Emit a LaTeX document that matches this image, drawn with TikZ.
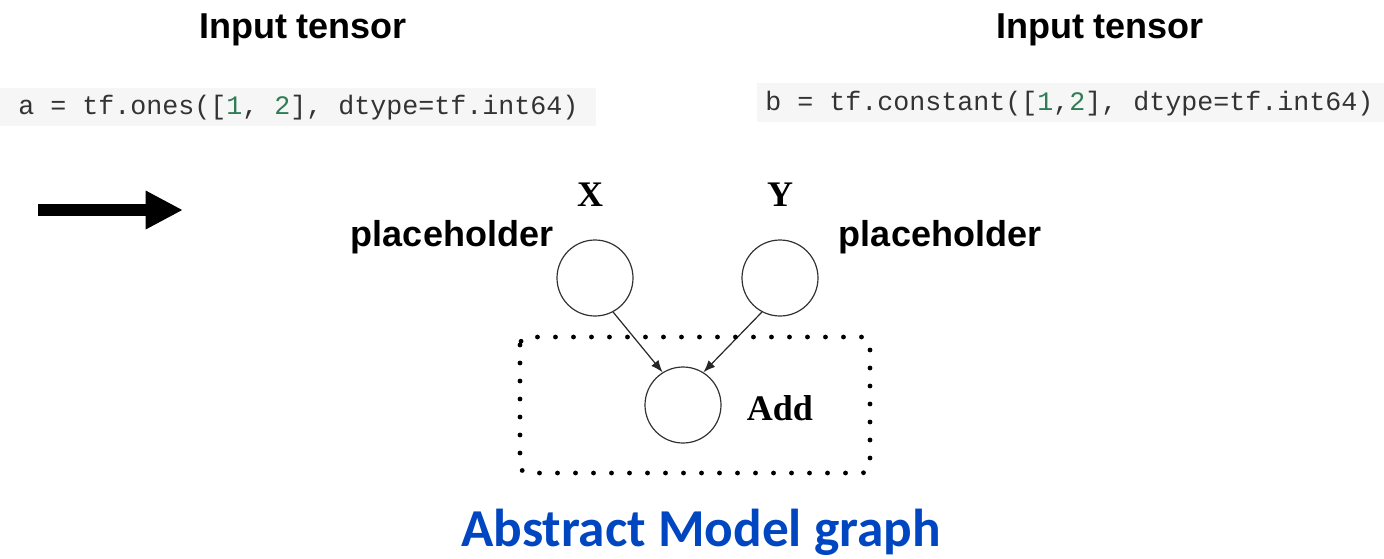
\documentclass[tikz,border=0pt]{standalone}
\usepackage{fontspec}
\setmainfont{Liberation Serif}
\setsansfont{Liberation Sans}
\setmonofont{Liberation Mono}
\newfontfamily\carlito{Carlito}
\usetikzlibrary{arrows.meta}
\definecolor{codebg}{HTML}{F6F6F6}
\definecolor{numgreen}{HTML}{2F7D55}
\definecolor{titleblue}{HTML}{0046C0}
\tikzset{
  x=0.75pt, y=-0.75pt,
  heading/.style={font=\sffamily\bfseries\fontsize{27}{30}\selectfont, inner sep=0pt},
  code/.style={font=\ttfamily\fontsize{20}{24}\selectfont, anchor=base west, inner sep=0pt, text=black!80},
  varname/.style={font=\rmfamily\bfseries\fontsize{27}{30}\selectfont, inner sep=0pt},
  opnode/.style={circle, draw=black!80, line width=0.9pt, minimum size=57pt, inner sep=0pt},
  flow/.style={-{Latex[length=9pt,width=7pt]}, line width=0.9pt, black!85},
  group/.style={draw, line width=3.6pt, dash pattern=on 0pt off 13.5pt, line cap=round, rounded corners=6pt},
}
\newcommand{\num}[1]{\textcolor{numgreen}{#1}}
\begin{document}
\begin{tikzpicture}
\useasboundingbox (0,0) rectangle (1384,558);

% headings over the two inputs
\node[heading] (inl) at (303,30) {Input tensor};
\node[heading] (inr) at (1100,30) {Input tensor};

% code snippets
\fill[codebg] (0,88) rectangle (596,126);
\node[code] (codea) at (18,114) {a = tf.ones([\num{1}, \num{2}], dtype=tf.int64)};
\fill[codebg] (757,83) rectangle (1384,122);
\node[code] (codeb) at (765,110) {b = tf.constant([\num{1},\num{2}], dtype=tf.int64)};

% big pointer arrow
\coordinate (ps) at (38,210);
\coordinate (pe) at (183,210);
\draw[line width=9pt, -{Triangle[length=28pt,width=27pt]}] (ps) -- (pe);

% graph nodes
\node[opnode] (x) at (595,278) {};
\node[opnode] (y) at (780,278) {};
\node[opnode] (add) at (683,405) {};

\node[varname] (xl) at (590,195) {X};
\node[varname] (yl) at (780,195) {Y};
\node[heading] (pl) at (452,237) {placeholder};
\node[heading] (pr) at (940,237) {placeholder};
\node[varname] (addl) at (780,408) {Add};

% edges into the add op
\draw[flow] (x.-62) -- (add.122);
\draw[flow] (y.-118) -- (add.58);

% dotted group around the add op
\draw[group] (520,337) rectangle (870,473);

% caption
\node[font=\carlito\bfseries\fontsize{40}{44}\selectfont, text=titleblue, inner sep=0pt] (cap) at (701,532) {Abstract Model graph};
\end{tikzpicture}
\end{document}
